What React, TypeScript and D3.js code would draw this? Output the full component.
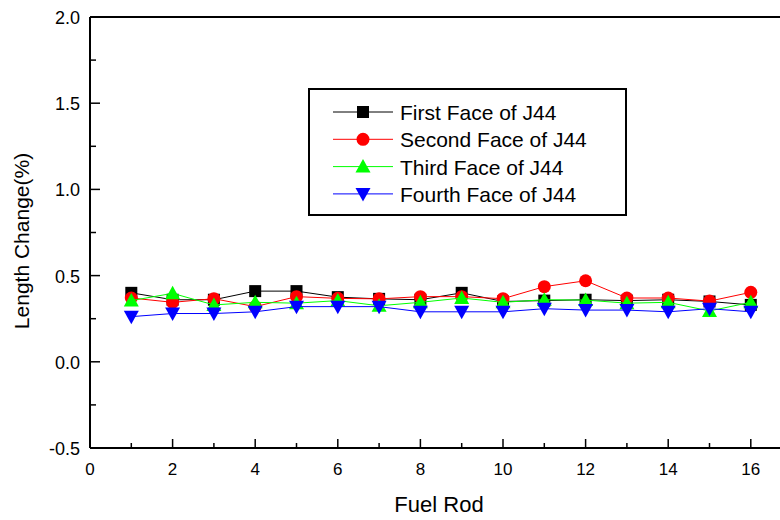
import React from "react";
import * as d3 from "d3";

const rods = [1, 2, 3, 4, 5, 6, 7, 8, 9, 10, 11, 12, 13, 14, 15, 16];
const firstFace = [0.40, 0.36, 0.36, 0.41, 0.41, 0.375, 0.365, 0.36, 0.40, 0.35, 0.355, 0.36, 0.355, 0.36, 0.35, 0.33];
const secondFace = [0.37, 0.345, 0.366, 0.32, 0.378, 0.368, 0.365, 0.378, 0.378, 0.366, 0.436, 0.47, 0.37, 0.37, 0.352, 0.403];
const thirdFace = [0.355, 0.397, 0.33, 0.345, 0.34, 0.355, 0.325, 0.345, 0.37, 0.345, 0.36, 0.358, 0.34, 0.345, 0.295, 0.345];
const fourthFace = [0.262, 0.28, 0.28, 0.29, 0.32, 0.32, 0.32, 0.29, 0.29, 0.29, 0.308, 0.30, 0.30, 0.29, 0.308, 0.29];

const seriesNames = ["First Face of J44", "Second Face of J44", "Third Face of J44", "Fourth Face of J44"];
const seriesColors = ["#000000", "#ff0000", "#00ff00", "#0000ff"];
const seriesShapes = ["square", "circle", "triangle", "triangleDown"];
const seriesValues = [firstFace, secondFace, thirdFace, fourthFace];

const xTicks = [0, 2, 4, 6, 8, 10, 12, 14, 16];
const yTicks = [-0.5, 0, 0.5, 1.0, 1.5, 2.0];

const W = 780;
const H = 520;
const left = 90;
const top = 17;
const bottom = 448;

function Marker({ shape, cx, cy, color }: { shape: string; cx: number; cy: number; color: string }) {
  if (shape === "square") return <rect x={cx - 6} y={cy - 6} width={12} height={12} fill={color} />;
  if (shape === "circle") return <circle cx={cx} cy={cy} r={6.5} fill={color} />;
  if (shape === "triangle")
    return <path d={`M${cx},${cy - 7.5}L${cx + 7.5},${cy + 6}L${cx - 7.5},${cy + 6}Z`} fill={color} />;
  return <path d={`M${cx},${cy + 7.5}L${cx + 7.5},${cy - 6}L${cx - 7.5},${cy - 6}Z`} fill={color} />;
}

export default function App() {
  const x = d3.scaleLinear().domain([0, 17]).range([left, left + 17 * 41.3]);
  const y = d3.scaleLinear().domain([-0.5, 2.0]).range([bottom, top]);
  const line = d3.line<number>().x((_, i) => x(rods[i])).y((d) => y(d));
  const xMinor = d3.range(0, 18, 1);
  const yMinor = d3.range(-0.5, 2.01, 0.25);
  const font = "Arial, 'Liberation Sans', sans-serif";

  return (
    <svg width={W} height={H} style={{ position: "absolute", left: 0, top: 0, background: "#fff" }} fontFamily={font}>
      {/* frame */}
      <line x1={left} x2={W} y1={top} y2={top} stroke="#000" strokeWidth={2} />
      <line x1={left} x2={left} y1={top} y2={bottom} stroke="#000" strokeWidth={2} />
      <line x1={left} x2={W} y1={bottom} y2={bottom} stroke="#000" strokeWidth={2} />
      {/* y ticks */}
      {yMinor.map((v) => {
        const major = Math.abs((v * 2) - Math.round(v * 2)) < 1e-6;
        return <line key={"ym" + v} x1={left} x2={left + (major ? 10 : 6)} y1={y(v)} y2={y(v)} stroke="#000" strokeWidth={1.5} />;
      })}
      {yTicks.map((v) => (
        <text key={"yt" + v} x={left - 10} y={y(v) + 7} textAnchor="end" fontSize={18}>
          {v.toFixed(1)}
        </text>
      ))}
      {/* x ticks */}
      {xMinor.map((v) => {
        const major = v % 2 === 0;
        return <line key={"xm" + v} x1={x(v)} x2={x(v)} y1={bottom} y2={bottom - (major ? 9 : 5)} stroke="#000" strokeWidth={1.5} />;
      })}
      {xTicks.map((v) => (
        <text key={"xt" + v} x={x(v)} y={bottom + 27} textAnchor="middle" fontSize={17}>
          {v}
        </text>
      ))}
      <text x={439} y={512} textAnchor="middle" fontSize={22}>Fuel Rod</text>
      <text transform={`translate(29,241) rotate(-90)`} textAnchor="middle" fontSize={21}>Length Change(%)</text>
      {/* series */}
      {seriesValues.map((vals, s) => (
        <g key={"s" + s}>
          <path d={line(vals) || ""} fill="none" stroke={seriesColors[s]} strokeWidth={1} />
          {vals.map((v, i) => (
            <Marker key={i} shape={seriesShapes[s]} cx={x(rods[i])} cy={y(v)} color={seriesColors[s]} />
          ))}
        </g>
      ))}
      {/* legend */}
      <rect x={309} y={89} width={317} height={126} fill="#fff" stroke="#000" strokeWidth={2} />
      {seriesNames.map((n, s) => {
        const cy = 112 + s * 27.3;
        return (
          <g key={"l" + s}>
            <line x1={333} x2={393} y1={cy} y2={cy} stroke={seriesColors[s]} strokeWidth={1} />
            <Marker shape={seriesShapes[s]} cx={363} cy={cy} color={seriesColors[s]} />
            <text x={400} y={cy + 8} fontSize={21}>{n}</text>
          </g>
        );
      })}
    </svg>
  );
}
